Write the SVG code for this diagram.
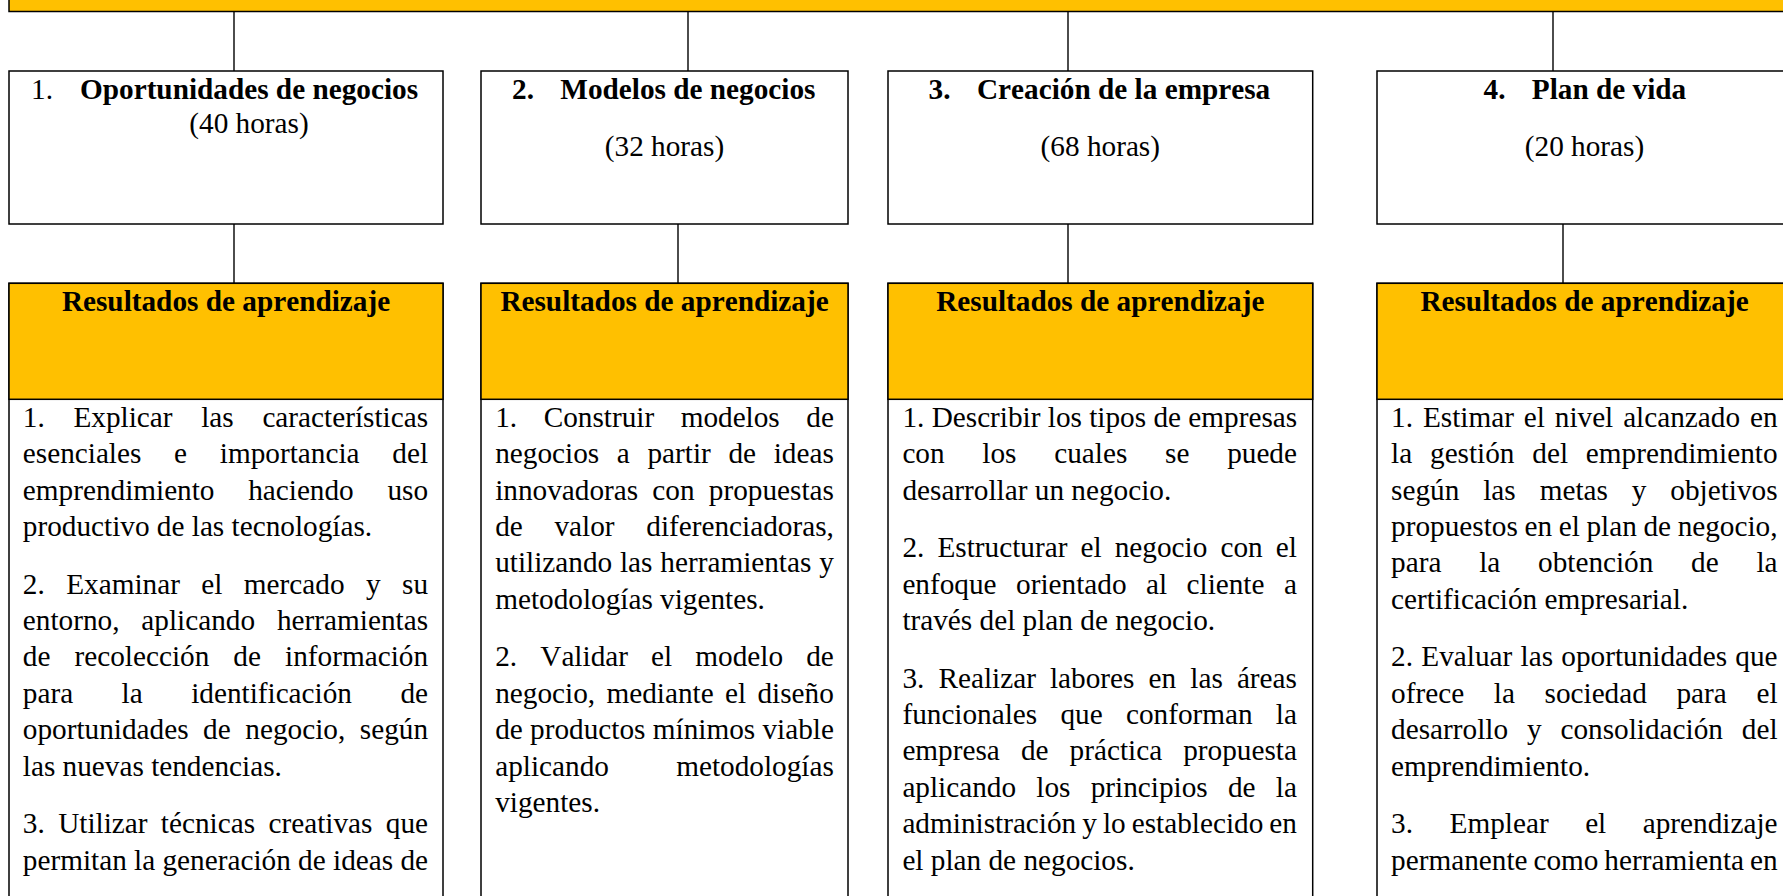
<svg xmlns="http://www.w3.org/2000/svg" width="1783" height="896" viewBox="0 0 1783 896">
<style>
  text { font-family: "Liberation Serif", "Times New Roman", serif; font-size: 29.25px; fill: #000; font-kerning: none; font-variant-ligatures: none; }
  .bold { font-weight: bold; }
  .mid { text-anchor: middle; }
  .box { fill: #fff; stroke: #000; stroke-width: 1.5; }
  .gold { fill: #FFC000; stroke: #000; stroke-width: 1.5; }
  .conn line { stroke: #000; stroke-width: 1.4; }
</style>
<rect width="1783" height="896" fill="#fff"/>

<g id="banner">
  <rect class="gold" x="9" y="-20" width="1800" height="31.5"/>
</g>

<g id="connectors" class="conn">
  <line x1="234" y1="11.5" x2="234" y2="71"/>
  <line x1="688" y1="11.5" x2="688" y2="71"/>
  <line x1="1068" y1="11.5" x2="1068" y2="71"/>
  <line x1="1553" y1="11.5" x2="1553" y2="71"/>
  <line x1="234" y1="224" x2="234" y2="283.3"/>
  <line x1="678" y1="224" x2="678" y2="283.3"/>
  <line x1="1068" y1="224" x2="1068" y2="283.3"/>
  <line x1="1563" y1="224" x2="1563" y2="283.3"/>
</g>

<g id="module1">
  <rect class="box" x="9" y="71" width="434" height="153"/>
  <text x="31" y="99.3">1.</text>
  <text class="bold" x="80" y="99.3">Oportunidades de negocios</text>
  <text class="mid" x="249" y="133.3">(40 horas)</text>
</g>
<g id="module2">
  <rect class="box" x="481" y="71" width="367" height="153"/>
  <text class="bold" x="512" y="99.3">2.</text>
  <text class="bold" x="560.3" y="99.3">Modelos de negocios</text>
  <text class="mid" x="664.5" y="156">(32 horas)</text>
</g>
<g id="module3">
  <rect class="box" x="888" y="71" width="424.7" height="153"/>
  <text class="bold" x="928.5" y="99.3">3.</text>
  <text class="bold" x="977" y="99.3">Creación de la empresa</text>
  <text class="mid" x="1100.3" y="156">(68 horas)</text>
</g>
<g id="module4">
  <rect class="box" x="1377" y="71" width="420" height="153"/>
  <text class="bold" x="1483.6" y="99.3">4.</text>
  <text class="bold" x="1531.8" y="99.3">Plan de vida</text>
  <text class="mid" x="1584.5" y="156">(20 horas)</text>
</g>

<g id="results1">
  <rect class="box" x="9" y="283.3" width="434" height="640"/>
  <rect class="gold" x="9" y="283.3" width="434" height="116"/>
  <text class="bold mid" x="226" y="310.7">Resultados de aprendizaje</text>
  <text x="22.8" y="426.7" word-spacing="21.38">1. Explicar las características</text>
  <text x="22.8" y="463.1" word-spacing="25.44">esenciales e importancia del</text>
  <text x="22.8" y="499.5" word-spacing="26.36">emprendimiento haciendo uso</text>
  <text x="22.8" y="535.9">productivo de las tecnologías.</text>
  <text x="22.8" y="593.5" word-spacing="14.12">2. Examinar el mercado y su</text>
  <text x="22.8" y="629.9" word-spacing="14.6">entorno, aplicando herramientas</text>
  <text x="22.8" y="666.3" word-spacing="16.78">de recolección de información</text>
  <text x="22.8" y="702.7" word-spacing="41.15">para la identificación de</text>
  <text x="22.8" y="739.1" word-spacing="7.29">oportunidades de negocio, según</text>
  <text x="22.8" y="775.5">las nuevas tendencias.</text>
  <text x="22.8" y="833.1" word-spacing="6.09">3. Utilizar técnicas creativas que</text>
  <text x="22.8" y="869.5">permitan la generación de ideas de</text>
</g>

<g id="results2">
  <rect class="box" x="481" y="283.3" width="367" height="640"/>
  <rect class="gold" x="481" y="283.3" width="367" height="116"/>
  <text class="bold mid" x="664.5" y="310.7">Resultados de aprendizaje</text>
  <text x="495.2" y="426.7" word-spacing="19.19">1. Construir modelos de</text>
  <text x="495.2" y="463.1" word-spacing="10.35">negocios a partir de ideas</text>
  <text x="495.2" y="499.5" word-spacing="6.88">innovadoras con propuestas</text>
  <text x="495.2" y="535.9" word-spacing="24.37">de valor diferenciadoras,</text>
  <text x="495.2" y="572.3" word-spacing="0.52">utilizando las herramientas y</text>
  <text x="495.2" y="608.7">metodologías vigentes.</text>
  <text x="495.2" y="666.3" word-spacing="15.83">2. Validar el modelo de</text>
  <text x="495.2" y="702.7" word-spacing="4.04">negocio, mediante el diseño</text>
  <text x="495.2" y="739.1">de productos mínimos viable</text>
  <text x="495.2" y="775.5" word-spacing="60.04">aplicando metodologías</text>
  <text x="495.2" y="811.9">vigentes.</text>
</g>

<g id="results3">
  <rect class="box" x="888" y="283.3" width="424.7" height="640"/>
  <rect class="gold" x="888" y="283.3" width="424.7" height="116"/>
  <text class="bold mid" x="1100.3" y="310.7">Resultados de aprendizaje</text>
  <text x="902.4" y="426.7">1. Describir los tipos de empresas</text>
  <text x="902.4" y="463.1" word-spacing="30.42">con los cuales se puede</text>
  <text x="902.4" y="499.5">desarrollar un negocio.</text>
  <text x="902.4" y="557.1" word-spacing="5.81">2. Estructurar el negocio con el</text>
  <text x="902.4" y="593.5" word-spacing="12.14">enfoque orientado al cliente a</text>
  <text x="902.4" y="629.9">través del plan de negocio.</text>
  <text x="902.4" y="687.5" word-spacing="6.8">3. Realizar labores en las áreas</text>
  <text x="902.4" y="723.9" word-spacing="15.92">funcionales que conforman la</text>
  <text x="902.4" y="760.3" word-spacing="13.76">empresa de práctica propuesta</text>
  <text x="902.4" y="796.7" word-spacing="12.94">aplicando los principios de la</text>
  <text x="902.4" y="833.1" word-spacing="-1.27">administración y lo establecido en</text>
  <text x="902.4" y="869.5">el plan de negocios.</text>
</g>

<g id="results4">
  <rect class="box" x="1377" y="283.3" width="420" height="640"/>
  <rect class="gold" x="1377" y="283.3" width="420" height="116"/>
  <text class="bold mid" x="1584.5" y="310.7">Resultados de aprendizaje</text>
  <text x="1391.1" y="426.7" word-spacing="2.57">1. Estimar el nivel alcanzado en</text>
  <text x="1391.1" y="463.1" word-spacing="10.49">la gestión del emprendimiento</text>
  <text x="1391.1" y="499.5" word-spacing="16.6">según las metas y objetivos</text>
  <text x="1391.1" y="535.9" word-spacing="-0.69">propuestos en el plan de negocio,</text>
  <text x="1391.1" y="572.3" word-spacing="30.43">para la obtención de la</text>
  <text x="1391.1" y="608.7">certificación empresarial.</text>
  <text x="1391.1" y="666.3" word-spacing="0.97">2. Evaluar las oportunidades que</text>
  <text x="1391.1" y="702.7" word-spacing="22.32">ofrece la sociedad para el</text>
  <text x="1391.1" y="739.1" word-spacing="11.58">desarrollo y consolidación del</text>
  <text x="1391.1" y="775.5">emprendimiento.</text>
  <text x="1391.1" y="833.1" word-spacing="29.2">3. Emplear el aprendizaje</text>
  <text x="1391.1" y="869.5" word-spacing="-1.39">permanente como herramienta en</text>
</g>
</svg>
